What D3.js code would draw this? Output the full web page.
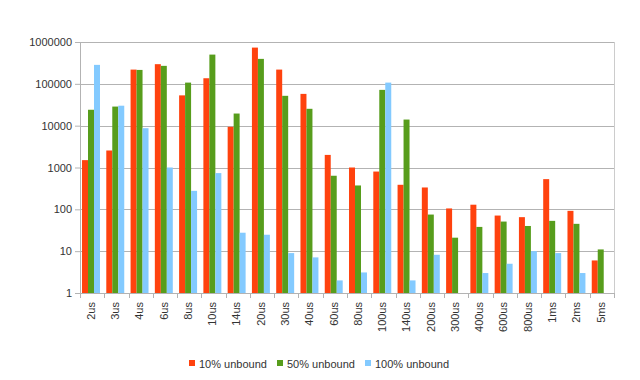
<!DOCTYPE html>
<html>
<head>
<meta charset="utf-8">
<script src="https://cdn.jsdelivr.net/npm/d3@7"></script>
<style>
  body { margin: 0; background: #fff; }
  svg { font-family: "Liberation Sans", Arial, sans-serif; }
</style>
</head>
<body>
<div id="chart"></div>
<script>
// chart data
var categories = ["2us", "3us", "4us", "6us", "8us", "10us", "14us", "20us", "30us", "40us",
    "60us", "80us", "100us", "140us", "200us", "300us", "400us", "600us", "800us", "1ms", "2ms", "5ms"];
var series_names = ["10% unbound", "50% unbound", "100% unbound"];
var unbound10 = [1500, 2550, 219000, 295000, 53000, 136000, 9400, 735000, 219000, 57500,
    2000, 1000, 800, 386, 333, 105, 129, 71, 65, 527, 92, 6];
var unbound50 = [24000, 28600, 215000, 269000, 107000, 500000, 19500, 395000, 51700, 25300,
    635, 372, 71700, 14000, 75, 21, 38, 51, 40, 53, 45, 11];
var unbound100 = [284000, 30000, 8700, 1000, 277, 735, 27.6, 24.7, 9, 7.1,
    2, 3.1, 107000, 2, 8.2, 0, 3, 5, 10, 9, 3, 0];
var y_ticks = [1, 10, 100, 1000, 10000, 100000, 1000000];
var colors = ["#ff420e", "#579d1c", "#83caff"];

function show_chart () {
    var margin = {top: 42, right: 26, bottom: 87, left: 80};
    var width = 640 - margin.left - margin.right;
    var height = 380 - margin.top - margin.bottom;

    var svg = d3.select("#chart")
    .append("svg")
    .attr("width", 640)
    .attr("height", 380);

    var g = svg.append("g")
    .attr("transform", "translate(" + margin.left + "," + margin.top + ")");

    var x = d3.scaleBand()
    .domain(categories)
    .range([0, width])
    .paddingInner(0.26)
    .paddingOuter(0.13)
    .align(0.32);

    var xSub = d3.scaleBand()
    .domain(d3.range(series_names.length))
    .range([0, x.bandwidth()]);

    var y = d3.scaleLog()
    .domain([1, 1000000])
    .range([height, 0]);

    // gridlines
    g.append("g")
    .selectAll("line")
    .data(y_ticks.slice(1))
    .join("line")
    .attr("x1", 0)
    .attr("x2", width)
    .attr("y1", function(d) { return Math.round(y(d)) + 0.5; })
    .attr("y2", function(d) { return Math.round(y(d)) + 0.5; })
    .attr("stroke", "#b3b3b3")
    .attr("stroke-width", 1);

    // right frame
    g.append("line")
    .attr("x1", width + 0.5).attr("x2", width + 0.5)
    .attr("y1", 0).attr("y2", height)
    .attr("stroke", "#cccccc");

    // bars
    var data = [unbound10, unbound50, unbound100];
    var groups = g.append("g")
    .selectAll("g")
    .data(categories)
    .join("g")
    .attr("transform", function(d) { return "translate(" + x(d) + ",0)"; });

    groups.selectAll("rect")
    .data(function(d, i) {
        return data.map(function(s, k) { return {k: k, v: s[i]}; }).filter(function(e) { return e.v >= 1; });
    })
    .join("rect")
    .attr("x", function(d) { return xSub(d.k); })
    .attr("width", xSub.bandwidth())
    .attr("y", function(d) { return y(d.v); })
    .attr("height", function(d) { return height - y(d.v); })
    .attr("fill", function(d) { return colors[d.k]; });

    // y axis
    var yAxis = g.append("g")
    .call(d3.axisLeft(y).tickValues(y_ticks).tickFormat(d3.format("d")).tickSizeOuter(0).tickSize(5));
    yAxis.select(".domain").attr("stroke", "#b3b3b3");
    yAxis.selectAll(".tick line").attr("stroke", "#b3b3b3");
    yAxis.selectAll("text")
    .attr("x", -8)
    .attr("fill", "#333")
    .style("font-size", "11px")
    .style("font-family", "Liberation Sans, Arial, sans-serif");

    // x axis
    var xAxis = g.append("g")
    .attr("transform", "translate(0," + height + ")")
    .call(d3.axisBottom(x).tickSize(0).tickSizeOuter(0));
    xAxis.select(".domain").attr("stroke", "#b3b3b3");
    xAxis.selectAll("text")
    .attr("transform", "rotate(-90)")
    .attr("x", -9)
    .attr("y", 0)
    .attr("dy", "0.35em")
    .attr("text-anchor", "end")
    .attr("fill", "#333")
    .style("font-size", "11px")
    .style("font-family", "Liberation Sans, Arial, sans-serif");

    // tick marks between categories
    var step = width / categories.length;
    g.append("g")
    .selectAll("line")
    .data(d3.range(categories.length + 1))
    .join("line")
    .attr("x1", function(i) { return Math.round(i * step) + 0.5; })
    .attr("x2", function(i) { return Math.round(i * step) + 0.5; })
    .attr("y1", height)
    .attr("y2", height + 5)
    .attr("stroke", "#b3b3b3");

    // legend
    var legendX = [189, 277, 365];
    var legend = svg.append("g")
    .selectAll("g")
    .data(series_names)
    .join("g")
    .attr("transform", function(d, i) { return "translate(" + legendX[i] + ",360)"; });
    legend.append("rect")
    .attr("width", 6).attr("height", 6)
    .attr("fill", function(d, i) { return colors[i]; });
    legend.append("text")
    .attr("x", 10)
    .attr("y", 7.5)
    .attr("fill", "#333")
    .style("font-size", "11px")
    .text(function(d) { return d; });
}

show_chart();
</script>
</body>
</html>
